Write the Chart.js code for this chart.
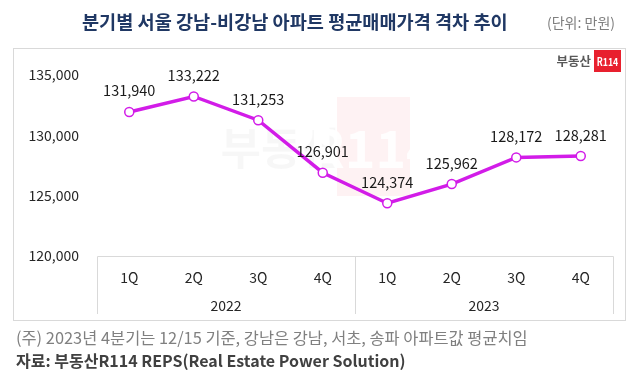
<!DOCTYPE html>
<html><head><meta charset="utf-8">
<script src="https://cdn.jsdelivr.net/npm/chart.js@4.4.1/dist/chart.umd.min.js"></script>
<style>html,body{margin:0;padding:0;background:#fff}#wrap{width:640px;height:377px}</style>
</head><body><div id="wrap"><canvas id="c" width="640" height="377"></canvas></div>
<script>
const quarters = ['1Q','2Q','3Q','4Q','1Q','2Q','3Q','4Q'];
const years = ['2022','2023'];
const prices = [131940,133222,131253,126901,124374,125962,128172,128281];
const yTicks = [120000,125000,130000,135000];
const titleText = '분기별 서울 강남-비강남 아파트 평균매매가격 격차 추이';
const unitText = '(단위: 만원)';
const noteText = '(주) 2023년 4분기는 12/15 기준, 강남은 강남, 서초, 송파 아파트값 평균치임';
const sourceText = '자료: 부동산R114 REPS(Real Estate Power Solution)';

const FF = "'Noto Sans CJK KR','Noto Sans',sans-serif";
const LINE = '#d21ce8';

const deco = {
  id:'deco',
  beforeDatasetsDraw(chart){
    const ctx = chart.ctx, x = chart.scales.x, ca = chart.chartArea;
    ctx.save();
    // watermark
    ctx.fillStyle = 'rgba(240,70,80,0.07)';
    ctx.fillRect(337, 97, 73, 99);
    ctx.fillStyle = 'rgba(0,0,0,0.03)';
    ctx.font = 'bold 44px ' + FF;
    ctx.textBaseline = 'middle'; ctx.textAlign = 'right';
    ctx.fillText('부동산', 342, 148);
    ctx.fillStyle = 'rgba(255,255,255,0.9)';
    ctx.textAlign = 'center';
    ctx.font = 'bold 52px ' + FF;
    ctx.fillText('R114', 373, 148);
    // category box lines
    ctx.strokeStyle = '#d9d9d9'; ctx.lineWidth = 1;
    const mid = (x.getPixelForValue(3) + x.getPixelForValue(4)) / 2;
    const bot = chart.scales.x2.bottom;
    ctx.beginPath();
    ctx.moveTo(Math.round(ca.left)+0.5, bot); ctx.lineTo(Math.round(ca.left)+0.5, ca.bottom + 0.5);
    ctx.lineTo(Math.round(ca.right)+0.5, ca.bottom + 0.5); ctx.lineTo(Math.round(ca.right)+0.5, bot);
    ctx.moveTo(Math.round(mid)+0.5, ca.bottom); ctx.lineTo(Math.round(mid)+0.5, bot);
    ctx.stroke();
    ctx.restore();
  },
  afterDatasetsDraw(chart){
    const ctx = chart.ctx;
    const meta = chart.getDatasetMeta(0);
    ctx.save();
    ctx.fillStyle = '#1a1a1a';
    ctx.font = '14.5px ' + FF;
    ctx.textAlign = 'center'; ctx.textBaseline = 'middle';
    meta.data.forEach((pt, i) => {
      ctx.fillText(prices[i].toLocaleString('en-US'), pt.x, pt.y - 21);
    });
    ctx.restore();
  },
  afterDraw(chart){
    const ctx = chart.ctx;
    ctx.save();
    // outer box
    ctx.strokeStyle = '#d9d9d9'; ctx.lineWidth = 1;
    ctx.strokeRect(13.5, 48.5, 612, 272);
    // title
    ctx.textBaseline = 'middle';
    ctx.textAlign = 'left';
    ctx.fillStyle = '#203864';
    ctx.font = 'bold 18.6px ' + FF;
    ctx.fillText(titleText, 82, 22);
    ctx.fillStyle = '#7f7f7f';
    ctx.font = '14px ' + FF;
    ctx.fillText(unitText, 547, 23);
    // logo
    ctx.fillStyle = '#e8202e';
    ctx.fillRect(594, 50, 27, 22);
    ctx.fillStyle = '#fff';
    ctx.font = 'bold 11px ' + FF;
    ctx.textAlign = 'center';
    ctx.save();
    ctx.translate(607.5, 61.5);
    ctx.scale(0.8, 1);
    ctx.fillText('R114', 0, 0);
    ctx.restore();
    ctx.fillStyle = '#595959';
    ctx.font = 'bold 12.5px ' + FF;
    ctx.textAlign = 'right';
    ctx.fillText('부동산', 591, 61.5);
    // footer
    ctx.textAlign = 'left';
    ctx.fillStyle = '#808080';
    ctx.font = '16.4px ' + FF;
    ctx.fillText(noteText, 16, 338);
    ctx.fillStyle = '#404040';
    ctx.font = 'bold 16px ' + FF;
    ctx.fillText(sourceText, 16, 361);
    ctx.restore();
  }
};

new Chart(document.getElementById('c'), {
  type:'line',
  data:{
    labels: quarters,
    datasets:[{
      data: prices,
      borderColor: LINE,
      borderWidth: 3.5,
      tension: 0,
      pointRadius: 4.5,
      pointBorderWidth: 1.5,
      pointBackgroundColor: '#fff',
      pointBorderColor: LINE,
      xAxisID:'x', yAxisID:'y'
    }]
  },
  plugins:[deco],
  options:{
    responsive:false,
    animation:false,
    events:[],
    layout:{padding:{left:0,right:27,top:75,bottom:63}},
    plugins:{legend:{display:false},tooltip:{enabled:false},title:{display:false}},
    scales:{
      x:{
        type:'category', offset:true, weight:0,
        afterFit(s){ s.height = 29; },
        grid:{display:false, drawTicks:false}, border:{display:false},
        ticks:{color:'#262626', font:{size:14, family:FF}, padding:13.6, maxRotation:0, autoSkip:false}
      },
      x2:{
        type:'category', labels: years, offset:true, position:'bottom', weight:1,
        afterFit(s){ s.height = 29; },
        grid:{display:false, drawTicks:false}, border:{display:false},
        ticks:{color:'#262626', font:{size:14, family:FF}, padding:12.6, maxRotation:0}
      },
      y:{
        min: yTicks[0], max: yTicks[yTicks.length-1],
        afterBuildTicks(s){ s.ticks = yTicks.map(v=>({value:v})); },
        afterFit(s){ s.width = 97; },
        grid:{display:false, drawTicks:false}, border:{display:false},
        ticks:{color:'#262626', font:{size:14, family:FF}, padding:18,
          callback:v=>Number(v).toLocaleString('en-US')}
      }
    }
  }
});
</script></body></html>
